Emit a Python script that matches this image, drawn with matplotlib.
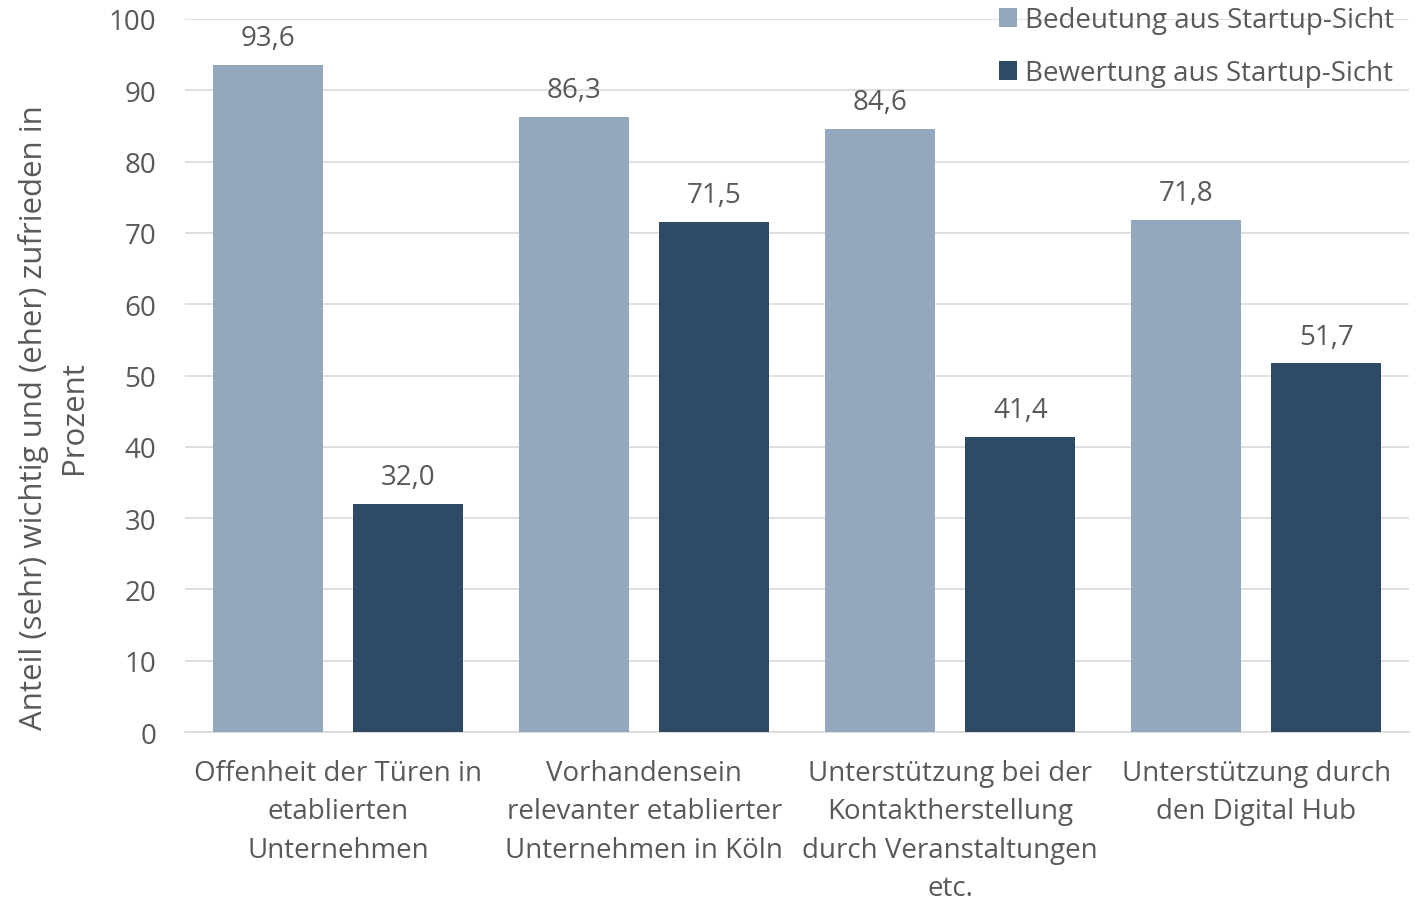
import matplotlib.pyplot as plt
import numpy as np

plt.rcParams['font.family'] = ['Open Sans', 'DejaVu Sans']

categories = ["Offenheit der Türen in\netablierten\nUnternehmen",
              "Vorhandensein\nrelevanter etablierter\nUnternehmen in Köln",
              "Unterstützung bei der\nKontaktherstellung\ndurch Veranstaltungen\netc.",
              "Unterstützung durch\nden Digital Hub"]
bedeutung = [93.6, 86.3, 84.6, 71.8]
bewertung = [32.0, 71.5, 41.4, 51.7]
series_labels = ["Bedeutung aus Startup-Sicht", "Bewertung aus Startup-Sicht"]

txt = '#595959'
fig = plt.figure(figsize=(14.25, 9.04), dpi=100)
ax = fig.add_axes([0.130, 0.189, 0.859, 0.789])

x = np.arange(len(categories))
w = 0.36
off = 0.229
b1 = ax.bar(x - off, bedeutung, w, color='#93A8BC', label=series_labels[0], zorder=3)
b2 = ax.bar(x + off, bewertung, w, color='#2E4A64', label=series_labels[1], zorder=3)

for bars, vals in ((b1, bedeutung), (b2, bewertung)):
    for r, v in zip(bars, vals):
        ax.text(r.get_x() + r.get_width() / 2, v + 1.8, f"{v:.1f}".replace('.', ','),
                ha='center', va='bottom', fontsize=20, color=txt)

ax.set_xlim(-0.5, 3.5)
ax.set_ylim(0, 100)
ax.set_yticks(range(0, 101, 10))
ax.yaxis.grid(True, color='#D9D9D9', linewidth=1.2, zorder=0)
ax.set_axisbelow(True)
for s in ['top', 'right', 'left']:
    ax.spines[s].set_visible(False)
ax.spines['bottom'].set_color('#D9D9D9')
ax.spines['bottom'].set_linewidth(1.2)
ax.tick_params(axis='both', length=0, labelsize=20, labelcolor=txt)
ax.tick_params(axis='y', pad=21)
ax.tick_params(axis='x', pad=19)
ax.set_xticks(x)
ax.set_xticklabels(categories, linespacing=1.5)

ax.set_ylabel("Anteil (sehr) wichtig und (eher) zufrieden in\nProzent",
              fontsize=22.5, color=txt, linespacing=1.4)
ax.yaxis.set_label_coords(-0.079, 0.443)

leg = ax.legend(loc='upper right', bbox_to_anchor=(0.997, 1.033), frameon=False,
                fontsize=20, labelcolor=txt, handlelength=0.65, handleheight=0.65,
                handletextpad=0.3, labelspacing=0.9, borderaxespad=0)

fig.savefig('out.png', dpi=100)
